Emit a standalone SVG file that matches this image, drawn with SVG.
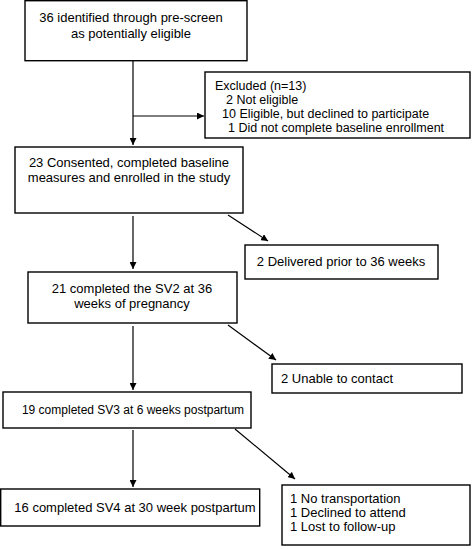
<svg xmlns="http://www.w3.org/2000/svg" width="473" height="549" viewBox="0 0 473 549">
<defs>
<marker id="ah" viewBox="0 0 10 10" refX="10" refY="5" markerWidth="7" markerHeight="7" markerUnits="userSpaceOnUse" orient="auto"><path d="M0,0 L10,5 L0,10 z" fill="#000"/></marker>
</defs>
<style>
rect{fill:#fff;stroke:#000;stroke-width:1.4}
text{font-family:"Liberation Sans",Arial,sans-serif;font-size:13px;fill:#000}
.c{text-anchor:middle}
.s{font-size:12.5px}
.ln{stroke:#000;stroke-width:1.2;fill:none}
</style>
<rect width="473" height="549" fill="#fff" style="stroke:none"/>
<g id="connectors">
<line class="ln" x1="133" y1="61" x2="133" y2="145" marker-end="url(#ah)"/>
<line class="ln" x1="133" y1="116" x2="204" y2="116" marker-end="url(#ah)"/>
<line class="ln" x1="133" y1="216" x2="133" y2="269" marker-end="url(#ah)"/>
<line class="ln" x1="228" y1="215" x2="268" y2="241" marker-end="url(#ah)"/>
<line class="ln" x1="133" y1="326" x2="133" y2="390" marker-end="url(#ah)"/>
<line class="ln" x1="228" y1="325" x2="276" y2="360" marker-end="url(#ah)"/>
<line class="ln" x1="133" y1="430" x2="133" y2="487" marker-end="url(#ah)"/>
<line class="ln" x1="235" y1="429" x2="295" y2="479" marker-end="url(#ah)"/>
</g>
<g id="n1"><rect x="25" y="0.7" width="222" height="60"/>
<text class="c" x="131" y="22">36 identified through pre-screen</text>
<text class="c" x="131" y="38">as potentially eligible</text></g>
<g id="n2"><rect x="205" y="72" width="265" height="66"/>
<text class="s" x="215" y="90">Excluded (n=13)</text>
<text class="s" x="226" y="104">2 Not eligible</text>
<text class="s" x="222" y="118">10 Eligible, but declined to participate</text>
<text class="s" x="228" y="132">1 Did not complete baseline enrollment</text></g>
<g id="n3"><rect x="15" y="147" width="228" height="66"/>
<text class="c" x="129" y="167">23 Consented, completed baseline</text>
<text class="c" x="129" y="182">measures and enrolled in the study</text></g>
<g id="n4"><rect x="245" y="245" width="193" height="34"/>
<text class="c" x="341" y="266">2 Delivered prior to 36 weeks</text></g>
<g id="n5"><rect x="28" y="272" width="209" height="51"/>
<text class="c" x="132" y="293">21 completed the SV2 at 36</text>
<text class="c" x="132" y="308">weeks of pregnancy</text></g>
<g id="n6"><rect x="272" y="364" width="190" height="29"/>
<text x="281" y="383">2 Unable to contact</text></g>
<g id="n7"><rect x="3" y="392" width="248" height="36"/>
<text class="c" x="133" y="414" style="font-size:12px">19 completed SV3 at 6 weeks postpartum</text></g>
<g id="n8"><rect x="0.7" y="489" width="259" height="37"/>
<text class="c" x="135" y="512">16 completed SV4 at 30 week postpartum</text></g>
<g id="n9"><rect x="282" y="485" width="188" height="60"/>
<text x="290" y="503">1 No transportation</text>
<text x="290" y="517">1 Declined to attend</text>
<text x="290" y="531">1 Lost to follow-up</text></g>
</svg>
